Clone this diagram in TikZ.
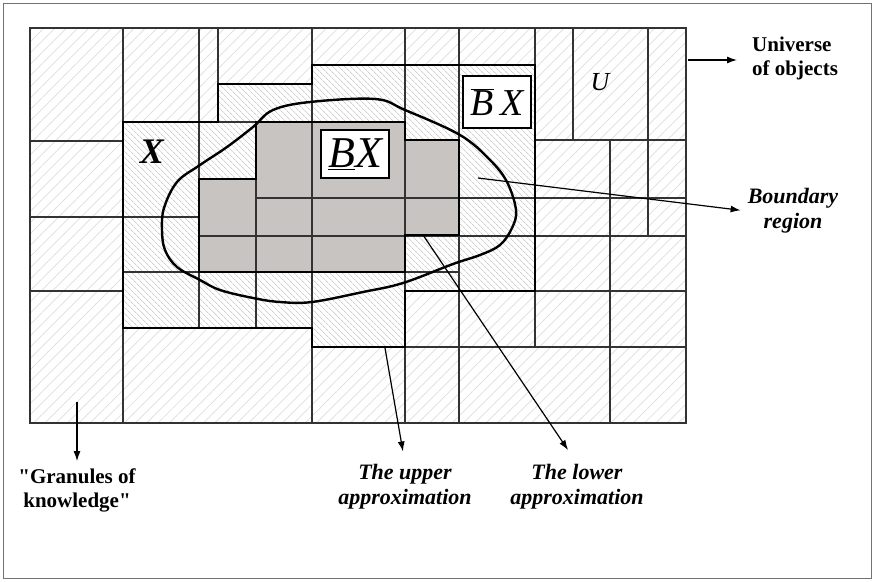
\documentclass[tikz,border=0pt]{standalone}
\usepackage{fontspec}
\setmainfont{Liberation Serif}[Ligatures=TeXOff]
\usetikzlibrary{arrows.meta,patterns.meta}
\definecolor{lowgray}{RGB}{200,196,194}
\definecolor{hatchout}{RGB}{222,222,222}
\definecolor{hatchbd}{RGB}{182,182,182}
\begin{document}
\begin{tikzpicture}[x=1pt, y=-1pt, line join=miter, >={Latex[length=10pt,width=7pt]},
  thinline/.style={draw=black!80, line width=1.2pt},
  thickline/.style={draw=black, line width=2.6pt},
  lbl/.style={font=\fontsize{21}{24}\selectfont\bfseries, align=center, inner sep=1pt},
  ilbl/.style={font=\fontsize{22}{25}\selectfont\bfseries\itshape, align=center, inner sep=1pt},
  arr/.style={->, line width=1.2pt},
  setbox/.style={draw, line width=2.6pt, fill=white, inner sep=0pt}]
  \useasboundingbox (0,0) rectangle (874,581);
  \draw[black!55, line width=1pt] (3,3) rectangle (871,578);
  % universe of objects
  \fill[white] (30,28) rectangle (686,423);
  \fill[pattern={Lines[angle=45,distance=8pt,line width=0.7pt]}, pattern color=hatchout] (30,28) rectangle (686,423);
  % upper approximation
  \fill[white] (123,122)--(218,122)--(218,84)--(312,84)--(312,65)--(535,65)--(535,291)--(405,291)--(405,347)--(312,347)--(312,328)--(123,328)--cycle;
  \fill[pattern={Lines[angle=-45,distance=4pt,line width=0.6pt]}, pattern color=hatchbd] (123,122)--(218,122)--(218,84)--(312,84)--(312,65)--(535,65)--(535,291)--(405,291)--(405,347)--(312,347)--(312,328)--(123,328)--cycle;
  % lower approximation
  \fill[lowgray] (256,122)--(405,122)--(405,140)--(459,140)--(459,235)--(405,235)--(405,272)--(199,272)--(199,179)--(256,179)--cycle;
  % granules
  \draw[thinline] (30,28) rectangle (686,423);
  \foreach \x/\a/\b in {123/28/423, 199/28/328, 218/28/122, 256/122/328, 312/28/423, 405/28/423,
      459/28/423, 535/28/347, 573/28/140, 648/28/235, 610/140/423}
    \draw[thinline] (\x,\a)--(\x,\b);
  \foreach \y/\a/\b in {141/30/123, 217/30/199, 291/30/123, 122/123/405, 179/199/256, 198/256/686,
      236/199/686, 272/123/459, 140/535/686, 291/535/686, 347/405/686}
    \draw[thinline] (\a,\y)--(\b,\y);
  \draw[thickline] (123,122)--(218,122)--(218,84)--(312,84)--(312,65)--(535,65)--(535,291)--(405,291)--(405,347)--(312,347)--(312,328)--(123,328)--cycle;
  \draw[thickline] (256,122)--(405,122)--(405,140)--(459,140)--(459,235)--(405,235)--(405,272)--(199,272)--(199,179)--(256,179)--cycle;
  % the set X
  \draw[thickline, line width=2.4pt] plot[smooth cycle, tension=0.6] coordinates {(273,110) (310,102) (375,99) (405,110)
      (460,135) (490,160) (507,182) (516,210) (512,228) (500,245) (480,255) (453,264) (403,283) (363,292)
      (312,302) (280,302) (253,298) (220,290) (200,280) (177,267) (165,250) (162,230) (164,208) (177,182)
      (200,165) (227,147) (253,127)};
  \node[font=\fontsize{36}{36}\selectfont\bfseries\itshape] (xset) at (152,152) {X};
  \node[font=\fontsize{26}{26}\selectfont\itshape] (uset) at (600,82) {U};
  \node[setbox, minimum width=68pt, minimum height=48pt, font=\fontsize{44}{44}\selectfont\itshape] (lowlab) at (355,154) {\underline{B}X};
  \node[setbox, minimum width=68pt, minimum height=52pt, font=\fontsize{38}{38}\selectfont\itshape] (upplab) at (497,102) {$\overline{\mbox{\itshape B}}$\,X};
  % labels
  \node[lbl, align=left, anchor=west] (universe) at (751,58) {Universe\\of objects};
  \node[ilbl] (boundary) at (793,211) {Boundary\\region};
  \node[lbl] (granules) at (77,490) {"Granules of\\knowledge"};
  \node[ilbl] (upper) at (405,487) {The upper\\approximation};
  \node[ilbl] (lower) at (577,487) {The lower\\approximation};
  \coordinate (utail) at (688,60);
  \coordinate (btail) at (478,178);
  \coordinate (gtail) at (77,402);
  \coordinate (uptail) at (385,348);
  \coordinate (lotail) at (423,235);
  \draw[arr, shorten >=14pt] (utail) -- (universe.west |- utail);
  \draw[arr, shorten >=6pt] (btail) -- (boundary.west);
  \draw[arr, shorten >=6pt] (gtail) -- (granules.north);
  \draw[arr, shorten >=12pt] (uptail) -- (upper.north);
  \draw[arr, shorten >=16pt] (lotail) -- (lower.north);
\end{tikzpicture}
\end{document}
